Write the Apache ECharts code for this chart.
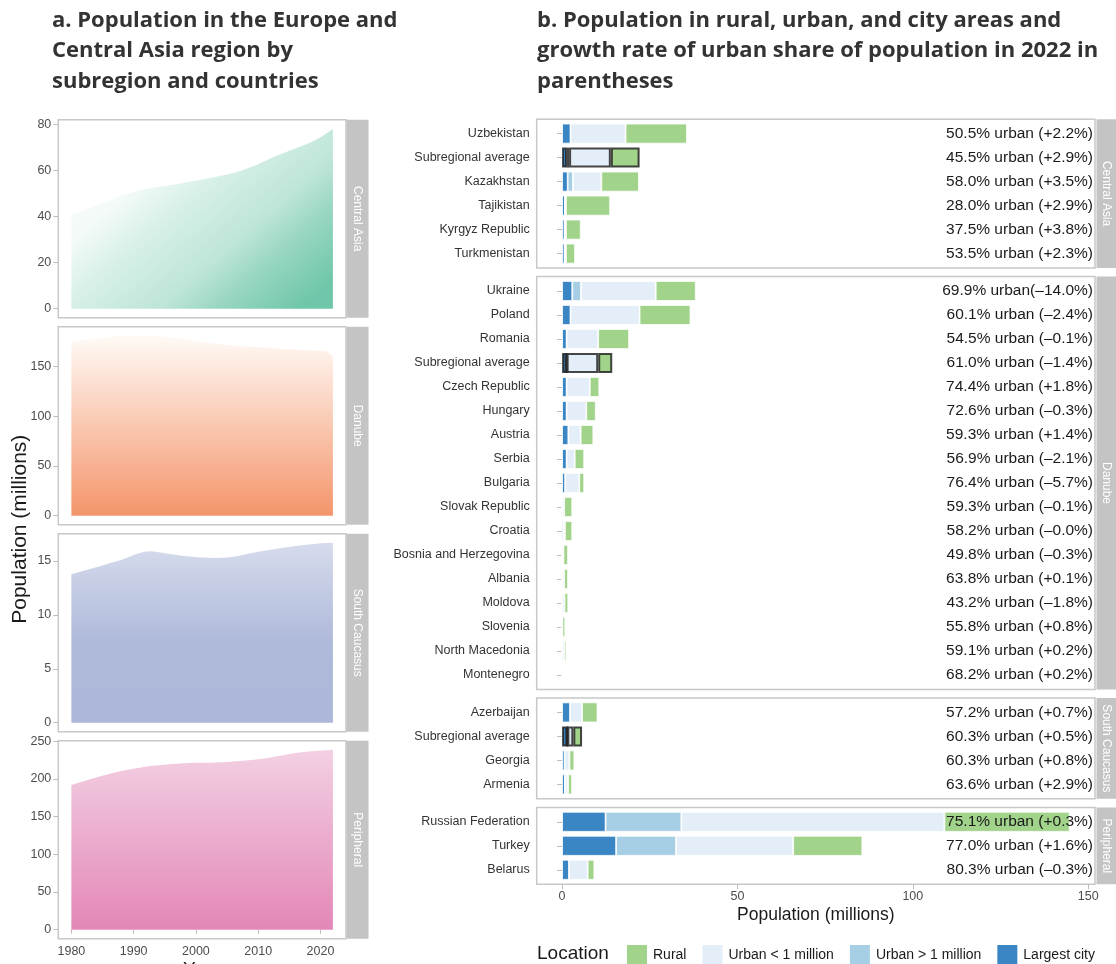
<!DOCTYPE html>
<html><head><meta charset="utf-8">
<script src="https://cdn.jsdelivr.net/npm/echarts@6/dist/echarts.min.js"></script>
<style>html,body{margin:0;padding:0;background:#fff}#c{width:1116px;height:964px}</style>
</head><body><div id="c"></div>
<script>
// ---------- Panel a: population by subregion ----------
const years = [1980,1981,1982,1983,1984,1985,1986,1987,1988,1989,1990,1991,1992,1993,1994,1995,1996,1997,1998,1999,2000,2001,2002,2003,2004,2005,2006,2007,2008,2009,2010,2011,2012,2013,2014,2015,2016,2017,2018,2019,2020,2021,2022];
const popCentralAsia = [40.6,41.6,42.6,43.6,44.6,45.6,46.7,47.8,48.9,49.8,50.6,51.3,51.9,52.4,52.8,53.2,53.6,54.0,54.5,55.0,55.5,56.0,56.5,57.0,57.6,58.2,58.8,59.6,60.5,61.5,62.6,63.9,65.2,66.3,67.4,68.4,69.4,70.5,71.6,72.8,74.3,76.0,78.0];
const popDanube = [174.5,175.5,176.5,177.4,178.2,179.0,179.7,180.3,180.8,181.0,181.1,181.1,181.0,180.8,180.5,180.0,179.3,178.5,177.6,176.7,175.8,174.9,174.0,173.2,172.5,171.9,171.3,170.8,170.3,169.9,169.5,169.0,168.6,168.2,167.8,167.5,167.1,166.8,166.5,166.2,165.9,165.5,160.0];
const popSouthCaucasus = [13.77,13.93,14.09,14.26,14.42,14.59,14.76,14.93,15.10,15.33,15.55,15.75,15.88,15.90,15.82,15.72,15.63,15.55,15.47,15.41,15.36,15.32,15.30,15.29,15.30,15.33,15.39,15.50,15.62,15.74,15.85,15.95,16.05,16.14,16.22,16.31,16.39,16.46,16.53,16.59,16.64,16.68,16.70];
const popPeripheral = [191.9,194.4,196.9,199.4,201.8,204.2,206.4,208.5,210.3,212.0,213.5,214.8,216.2,217.3,218.1,218.8,219.5,220.1,220.6,221.0,221.3,221.4,221.4,221.5,221.8,222.3,222.9,223.6,224.3,225.0,225.8,226.9,228.3,229.8,231.3,232.8,234.2,235.3,236.2,236.9,237.4,238.0,238.6];
const subregions = ['Central Asia','Danube','South Caucasus','Peripheral'];
const yearTicks = [1980,1990,2000,2010,2020];
const ticksCentralAsia = [0,20,40,60,80];
const ticksDanube = [0,50,100,150];
const ticksSouthCaucasus = [0,5,10,15];
const ticksPeripheral = [0,50,100,150,200,250];

// ---------- Panel b: rural / urban / city population, 2022 ----------
const locations = ['Rural','Urban < 1 million','Urban > 1 million','Largest city'];
const popTicks = [0,50,100,150];

const countriesCentralAsia = ['Uzbekistan','Subregional average','Kazakhstan','Tajikistan','Kyrgyz Republic','Turkmenistan'];
const largestCentralAsia   = [2.4,1.4,1.6,0.8,0.7,0.7];
const urbanBigCentralAsia  = [0,0.6,1.5,0,0,0];
const urbanSmallCentralAsia= [15.7,11.9,8.1,0.3,0.4,0.4];
const ruralCentralAsia     = [17.5,8.2,10.7,12.6,4.2,2.6];
const labelsCentralAsia = ['50.5% urban (+2.2%)','45.5% urban (+2.9%)','58.0% urban (+3.5%)','28.0% urban (+2.9%)','37.5% urban (+3.8%)','53.5% urban (+2.3%)'];

const countriesDanube = ['Ukraine','Poland','Romania','Subregional average','Czech Republic','Hungary','Austria','Serbia','Bulgaria','Slovak Republic','Croatia','Bosnia and Herzegovina','Albania','Moldova','Slovenia','North Macedonia','Montenegro'];
const largestDanube    = [2.9,2.4,1.3,1.3,1.3,1.3,1.8,1.3,0.9,0,0.4,0,0,0,0,0,0];
const urbanBigDanube   = [2.5,0,0,0,0,0,0,0,0,0,0,0,0,0,0,0,0];
const urbanSmallDanube = [21.3,19.7,9.0,9.0,6.6,5.6,3.5,2.3,4.0,0.6,0.4,0.4,0.6,0.7,0.1,0.6,0.4];
const ruralDanube      = [11.4,14.5,8.8,4.0,2.7,2.7,3.6,2.7,1.4,2.3,2.1,1.3,1.1,1.05,0.8,0.6,0.2];
const labelsDanube = ['69.9% urban(\u201314.0%)','60.1% urban (\u20132.4%)','54.5% urban (\u20130.1%)','61.0% urban (\u20131.4%)','74.4% urban (+1.8%)','72.6% urban (\u20130.3%)','59.3% urban (+1.4%)','56.9% urban (\u20132.1%)','76.4% urban (\u20135.7%)','59.3% urban (\u20130.1%)','58.2% urban (\u20130.0%)','49.8% urban (\u20130.3%)','63.8% urban (+0.1%)','43.2% urban (\u20131.8%)','55.8% urban (+0.8%)','59.1% urban (+0.2%)','68.2% urban (+0.2%)'];

const countriesSouthCaucasus = ['Azerbaijan','Subregional average','Georgia','Armenia'];
const largestSouthCaucasus    = [2.3,1.5,0.7,0.8];
const urbanBigSouthCaucasus   = [0,0,0,0];
const urbanSmallSouthCaucasus = [3.4,1.7,1.4,0.9];
const ruralSouthCaucasus      = [4.4,2.5,1.4,1.15];
const labelsSouthCaucasus = ['57.2% urban (+0.7%)','60.3% urban (+0.5%)','60.3% urban (+0.8%)','63.6% urban (+2.9%)'];

const countriesPeripheral = ['Russian Federation','Turkey','Belarus'];
const largestPeripheral    = [12.4,15.4,2.0];
const urbanBigPeripheral   = [21.6,17.1,0];
const urbanSmallPeripheral = [75.0,33.4,5.3];
const ruralPeripheral      = [35.7,19.7,1.9];
const labelsPeripheral = ['75.1% urban (+0.3%)','77.0% urban (+1.6%)','80.3% urban (\u20130.3%)'];

// ---------- styling / layout ----------
const FONT = '"Liberation Sans", Arial, sans-serif';
const BORDER = '#c8c8c8';
const TICK = '#bdbdbd';
const STRIP = '#c4c4c4';
const colLoc = {'Rural':'#a1d38a','Urban < 1 million':'#e4eef8','Urban > 1 million':'#a6cfe6','Largest city':'#3a86c4'};

const leftPop = [popCentralAsia, popDanube, popSouthCaucasus, popPeripheral];
const leftTicks = [ticksCentralAsia, ticksDanube, ticksSouthCaucasus, ticksPeripheral];
const grads = [
  {type:'linear',x:0,y:0,x2:0.72,y2:1.2,colorStops:[
    {offset:0,color:'#ffffff'},{offset:0.3,color:'#f3faf8'},{offset:0.45,color:'#d8f0e8'},
    {offset:0.61,color:'#c5e8dd'},{offset:0.675,color:'#bee5d8'},{offset:0.8,color:'#9ad7c3'},{offset:0.98,color:'#73c8ac'},{offset:1,color:'#70c6aa'}]},
  {type:'linear',x:0,y:0,x2:0,y2:1,colorStops:[{offset:0,color:'#fffaf6'},{offset:1,color:'#f4956b'}]},
  {type:'linear',x:0,y:0,x2:0,y2:1,colorStops:[{offset:0,color:'#d6dcec'},{offset:0.55,color:'#afb9da'},{offset:1,color:'#adb7d9'}]},
  {type:'linear',x:0,y:0,x2:0,y2:1,colorStops:[{offset:0,color:'#f3d0e3'},{offset:1,color:'#e387b7'}]}
];

const L_LEFT = 58.3, L_W = 287.7, L_TOP0 = 119.7, L_H = 198, L_STEP = 207;
const yrMin = years[0] - 0.05*(years[years.length-1]-years[0]);
const yrMax = years[years.length-1] + 0.05*(years[years.length-1]-years[0]);

const facets = [
  {name:'Central Asia', c:countriesCentralAsia, v:[largestCentralAsia,urbanBigCentralAsia,urbanSmallCentralAsia,ruralCentralAsia], lab:labelsCentralAsia},
  {name:'Danube', c:countriesDanube, v:[largestDanube,urbanBigDanube,urbanSmallDanube,ruralDanube], lab:labelsDanube},
  {name:'South Caucasus', c:countriesSouthCaucasus, v:[largestSouthCaucasus,urbanBigSouthCaucasus,urbanSmallSouthCaucasus,ruralSouthCaucasus], lab:labelsSouthCaucasus},
  {name:'Peripheral', c:countriesPeripheral, v:[largestPeripheral,urbanBigPeripheral,urbanSmallPeripheral,ruralPeripheral], lab:labelsPeripheral}
];
const stackOrder = ['Largest city','Urban > 1 million','Urban < 1 million','Rural'];
let totMax = 0;
facets.forEach(f => f.c.forEach((_, i) => { const t = f.v[0][i]+f.v[1][i]+f.v[2][i]+f.v[3][i]; if (t > totMax) totMax = t; }));
const pMin = -0.05*totMax, pMax = 1.05*totMax;

const U = 24, R_LEFT = 536.7, R_W = 558.3, R_TOP0 = 119.2, R_GAP = 8.6;
let rt = R_TOP0;
facets.forEach(f => { f.top = rt; f.h = (f.c.length + 0.2)*U; rt += f.h + R_GAP; });

const grid = [], xAxis = [], yAxis = [], series = [], graphic = [];

// left panels
for (let i = 0; i < 4; i++) {
  const top = L_TOP0 + i*L_STEP;
  const mx = Math.max(...leftPop[i]);
  grid.push({left:L_LEFT, top:top, width:L_W, height:L_H, show:true, borderColor:BORDER, borderWidth:1.5, backgroundColor:'#fff', containLabel:false, outerBoundsMode:'none'});
  const last = i === 3;
  xAxis.push({type:'value', gridIndex:i, min:yrMin, max:yrMax,
    axisLine:{show:false}, splitLine:{show:false},
    axisTick:{show:last, customValues:yearTicks, length:4, lineStyle:{color:TICK}},
    axisLabel:{show:last, customValues:yearTicks, formatter:v => String(v), color:'#4d4d4d', fontSize:12.5, margin:6, fontFamily:FONT},
    name: last ? 'Year' : '', nameLocation:'middle', nameGap:22,
    nameTextStyle:{fontSize:19, color:'#1a1a1a', fontFamily:FONT, verticalAlign:'top'}});
  yAxis.push({type:'value', gridIndex:i, min:-0.05*mx, max:1.05*mx,
    axisLine:{show:false}, splitLine:{show:false},
    axisTick:{show:true, customValues:leftTicks[i], length:5, lineStyle:{color:TICK}},
    axisLabel:{customValues:leftTicks[i], color:'#4d4d4d', fontSize:12.5, margin:7, fontFamily:FONT}});
  series.push({type:'line', xAxisIndex:i, yAxisIndex:i, silent:true, symbol:'none',
    data: years.map((y, j) => [y, leftPop[i][j]]),
    lineStyle:{opacity:0}, areaStyle:{opacity:1, color:grads[i]}});
  graphic.push({type:'rect', shape:{x:L_LEFT+L_W+0.5, y:top, width:22, height:L_H}, style:{fill:STRIP}});
  graphic.push({type:'text', x:L_LEFT+L_W+11.5, y:top+L_H/2, rotation:-Math.PI/2,
    style:{text:subregions[i], fill:'#fff', fontSize:12, fontFamily:FONT, align:'center', verticalAlign:'middle'}});
}

// right frames (indices 4..7)
facets.forEach((f, k) => {
  const last = k === 3;
  grid.push({left:R_LEFT, top:f.top, width:R_W, height:f.h, show:true, borderColor:BORDER, borderWidth:1.5, backgroundColor:'#fff', containLabel:false, outerBoundsMode:'none'});
  xAxis.push({type:'value', gridIndex:4+k, min:pMin, max:pMax,
    axisLine:{show:false}, splitLine:{show:false},
    axisTick:{show:last, customValues:popTicks, length:5, lineStyle:{color:TICK}},
    axisLabel:{show:last, customValues:popTicks, color:'#4d4d4d', fontSize:12.5, margin:6, fontFamily:FONT},
    name: last ? 'Population (millions)' : '', nameLocation:'middle', nameGap:22,
    nameTextStyle:{fontSize:17.5, color:'#1a1a1a', fontFamily:FONT, verticalAlign:'top'}});
  yAxis.push({type:'value', gridIndex:4+k, show:false, min:0, max:1, splitLine:{show:false}});
  graphic.push({type:'rect', shape:{x:R_LEFT+R_W+1.5, y:f.top, width:22, height:f.h}, style:{fill:STRIP}});
  graphic.push({type:'text', x:R_LEFT+R_W+11, y:f.top+f.h/2, rotation:-Math.PI/2,
    style:{text:f.name, fill:'#fff', fontSize:12, fontFamily:FONT, align:'center', verticalAlign:'middle'}});
});

// right data grids (indices 8..11)
facets.forEach((f, k) => {
  const gi = 8 + k;
  grid.push({left:R_LEFT, top:f.top + 0.1*U, width:R_W, height:f.c.length*U, containLabel:false, outerBoundsMode:'none'});
  xAxis.push({type:'value', gridIndex:gi, min:pMin, max:pMax, show:false, splitLine:{show:false}});
  yAxis.push({type:'category', gridIndex:gi, inverse:true, data:f.c,
    axisLine:{show:false}, splitLine:{show:false},
    axisTick:{show:true, alignWithLabel:true, length:5, lineStyle:{color:TICK}},
    axisLabel:{color:'#333', fontSize:12.5, margin:7, fontFamily:FONT}});
});
facets.forEach((f, k) => {
  const gi = 8 + k;
  yAxis.push({type:'category', gridIndex:gi, inverse:true, position:'right', data:f.lab, z:10,
    axisLine:{show:false}, axisTick:{show:false}, splitLine:{show:false},
    axisLabel:{inside:true, margin:2, color:'#1a1a1a', fontSize:15.5, fontFamily:FONT}});
});
facets.forEach((f, k) => {
  stackOrder.forEach((loc, s) => {
    series.push({type:'bar', name:loc, xAxisIndex:8+k, yAxisIndex:8+k, stack:'s'+k, barWidth:20,
      itemStyle:{color:colLoc[loc], borderColor:'#fff', borderWidth:0.8},
      data: f.v[s].map((val, i) => f.c[i] === 'Subregional average'
        ? {value:val, itemStyle:{borderColor:'rgba(25,25,25,0.8)', borderWidth:2}}
        : val)});
  });
});

graphic.push({type:'text', x:20, y:L_TOP0 + (3*L_STEP + L_H)/2, rotation:Math.PI/2,
  style:{text:'Population (millions)', fill:'#1a1a1a', fontSize:21, fontFamily:FONT, align:'center', verticalAlign:'middle'}});
graphic.push({type:'text', x:537, y:954,
  style:{text:'Location', fill:'#1a1a1a', fontSize:19, fontFamily:FONT, align:'left', verticalAlign:'middle'}});

const TITLE_STYLE = {fontFamily:'"Open Sans"', fontWeight:'bold', fontSize:22, lineHeight:30.5, color:'#333'};
const option = {
  animation:false,
  backgroundColor:'#fff',
  textStyle:{fontFamily:FONT},
  title:[
    {text:'a. Population in the Europe and\nCentral Asia region by\nsubregion and countries', left:52, top:5, padding:0, textStyle:TITLE_STYLE},
    {text:'b. Population in rural, urban, and city areas and\ngrowth rate of urban share of population in 2022 in\nparentheses', left:537, top:5, padding:0, textStyle:TITLE_STYLE}
  ],
  legend:{data:locations, left:625, top:943, padding:0, itemWidth:22, itemHeight:22, itemGap:14, icon:'rect',
    selectedMode:false, textStyle:{fontSize:14, color:'#1a1a1a', fontFamily:FONT}},
  grid, xAxis, yAxis, series, graphic
};
const chart = echarts.init(document.getElementById('c'), null, {renderer:'canvas'});
chart.setOption(option);
</script></body></html>
